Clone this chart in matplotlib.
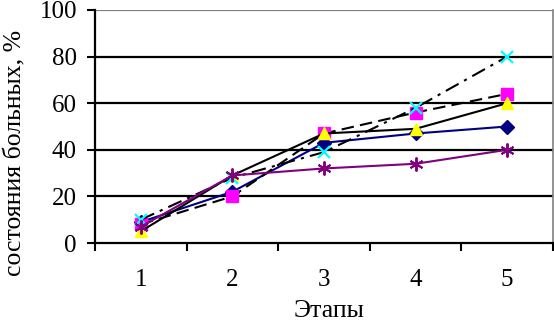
import matplotlib
matplotlib.use("Agg")
import matplotlib.pyplot as plt
from matplotlib.ticker import FixedLocator, NullFormatter, FixedFormatter

stages = [1, 2, 3, 4, 5]
stage_labels = ["1", "2", "3", "4", "5"]
s_diamond = [9, 22, 43, 47, 50]
s_square = [8, 20, 47, 56, 64]
s_triangle = [5, 29, 47, 49, 60]
s_cross = [10, 28, 39, 58, 80]
s_star = [7, 29, 32, 34, 40]
y_ticks = [0, 20, 40, 60, 80, 100]

plt.rcParams['font.family'] = ['Liberation Serif', 'DejaVu Serif']

fig = plt.figure(figsize=(5.54, 3.23), dpi=100)
ax = fig.add_axes([95/554, 1-243/323, (553-95)/554, (243-10)/323])

for y in y_ticks[1:]:
    ax.axhline(y, color='black' if y < 100 else '#808080', lw=1.6, zorder=1)

ax.plot(stages, s_diamond, color='#000080', lw=1.5, marker='D', ms=7,
        mfc='#000080', mec='#000080', zorder=3)
ax.plot(stages, s_square, color='black', lw=1.5, ls=(0, (6, 3)), marker='s', ms=8,
        mfc='#FF00FF', mec='#FF00FF', zorder=3)
ax.plot(stages, s_triangle, color='black', lw=1.5, marker='^', ms=9,
        mfc='#FFFF00', mec='#FFFF00', zorder=3)
ax.plot(stages, s_cross, color='black', lw=1.5, ls=(0, (7, 3, 1.5, 3)), marker='x', ms=8,
        mew=1.6, mfc='#00FFFF', mec='#00FFFF', zorder=3)
ax.plot(stages, s_star, color='#800080', lw=1.5, marker=(6, 2, 0), ms=10,
        mew=1.4, mfc='#800080', mec='#800080', zorder=3)

ax.set_xlim(0.5, 5.5)
ax.set_ylim(0, 100)
ax.xaxis.set_major_locator(FixedLocator([0.5, 1.5, 2.5, 3.5, 4.5, 5.5]))
ax.xaxis.set_major_formatter(NullFormatter())
ax.xaxis.set_minor_locator(FixedLocator(stages))
ax.xaxis.set_minor_formatter(FixedFormatter(stage_labels))
ax.tick_params(axis='x', which='major', direction='out', length=6, width=1.5, color='black')
ax.tick_params(axis='x', which='minor', length=0, pad=19, labelsize=18)
ax.set_yticks(y_ticks)
ax.tick_params(axis='y', direction='out', length=6, width=1.5, pad=7, labelsize=18)

ax.spines['top'].set_visible(False)
ax.spines['right'].set_color('#808080')
ax.spines['right'].set_linewidth(1.2)
for s in ['left', 'bottom']:
    ax.spines[s].set_linewidth(1.6)
    ax.spines[s].set_color('black')

fig.text(329/554, 1-311/323, "Этапы", ha='center', va='center', fontsize=18.5)
fig.text(15/554, 1-153/323, "состояния больных, %", ha='center', va='center',
         rotation=90, fontsize=18.5)

fig.savefig("out.png", dpi=100)
